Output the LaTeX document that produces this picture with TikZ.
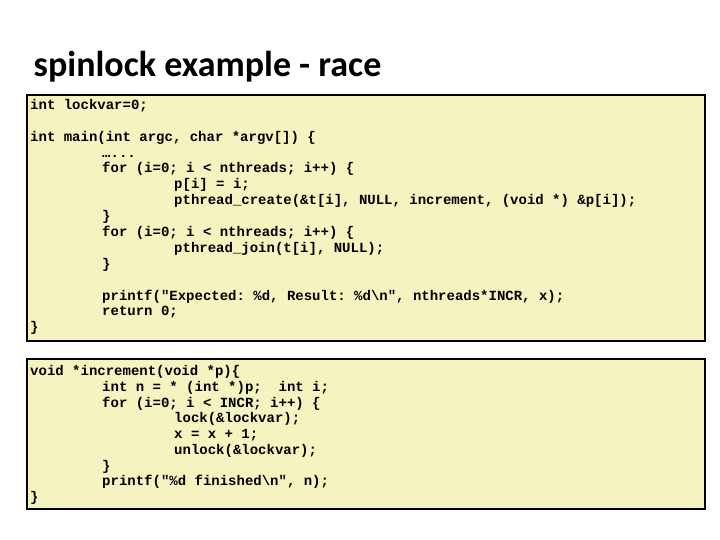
\documentclass[tikz,border=0pt]{standalone}
\usepackage{fontspec}
\setmonofont{Liberation Mono}
\newfontfamily\titlefont{Carlito}
\definecolor{codebg}{RGB}{245,243,192}
\newcommand{\codefont}{\ttfamily\bfseries\fontsize{14}{16}\selectfont}
\tikzset{
  codebox/.style={draw, line width=2pt, fill=codebg, minimum width=678pt, inner sep=0pt},
  codeline/.style={font=\codefont, anchor=base west, inner sep=0pt},
  heading/.style={font=\titlefont\bfseries\fontsize{36}{40}\selectfont, anchor=base west, inner sep=0pt}
}
\begin{document}
\begin{tikzpicture}[x=1pt,y=-1pt]
    \useasboundingbox[fill=white] (0,0) rectangle (720,540);
    \node[heading] (title) at (33.5,77) {spinlock example - race};
    % the two boxes
    \node[codebox, minimum height=246pt] (mainbox) at (366,218) {};
    \node[codebox, minimum height=150pt] (incbox) at (366,434) {};
    % main program
    \node[codeline] (m1) at (30,109.5) {int lockvar=0;};
    \node[codeline] (m2) at (30,141.2) {int main(int argc, char *argv[]) \{};
    \node[codeline] (m3) at (102,157.1) {…...};
    \node[codeline] (m4) at (102,173.0) {for (i=0; i < nthreads; i++) \{};
    \node[codeline] (m5) at (174,188.9) {p[i] = i;};
    \node[codeline] (m6) at (174,204.8) {pthread\_create(\&t[i], NULL, increment, (void *) \&p[i]);};
    \node[codeline] (m7) at (102,220.7) {\}};
    \node[codeline] (m8) at (102,236.5) {for (i=0; i < nthreads; i++) \{};
    \node[codeline] (m9) at (174,252.4) {pthread\_join(t[i], NULL);};
    \node[codeline] (m10) at (102,268.3) {\}};
    \node[codeline] (m11) at (102,300.0) {printf("Expected: \%d, Result: \%d\textbackslash n", nthreads*INCR, x);};
    \node[codeline] (m12) at (102,315.9) {return 0;};
    \node[codeline] (m13) at (30,331.5) {\}};
    % thread function
    \node[codeline] (i1) at (30,375.5) {void *increment(void *p)\{};
    \node[codeline] (i2) at (102,391.3) {int n = * (int *)p;\ \ int i;};
    \node[codeline] (i3) at (102,407.0) {for (i=0; i < INCR; i++) \{};
    \node[codeline] (i4) at (174,422.8) {lock(\&lockvar);};
    \node[codeline] (i5) at (174,438.5) {x = x + 1;};
    \node[codeline] (i6) at (174,454.3) {unlock(\&lockvar);};
    \node[codeline] (i7) at (102,470.0) {\}};
    \node[codeline] (i8) at (102,485.8) {printf("\%d finished\textbackslash n", n);};
    \node[codeline] (i9) at (30,501.5) {\}};
\end{tikzpicture}
\end{document}
